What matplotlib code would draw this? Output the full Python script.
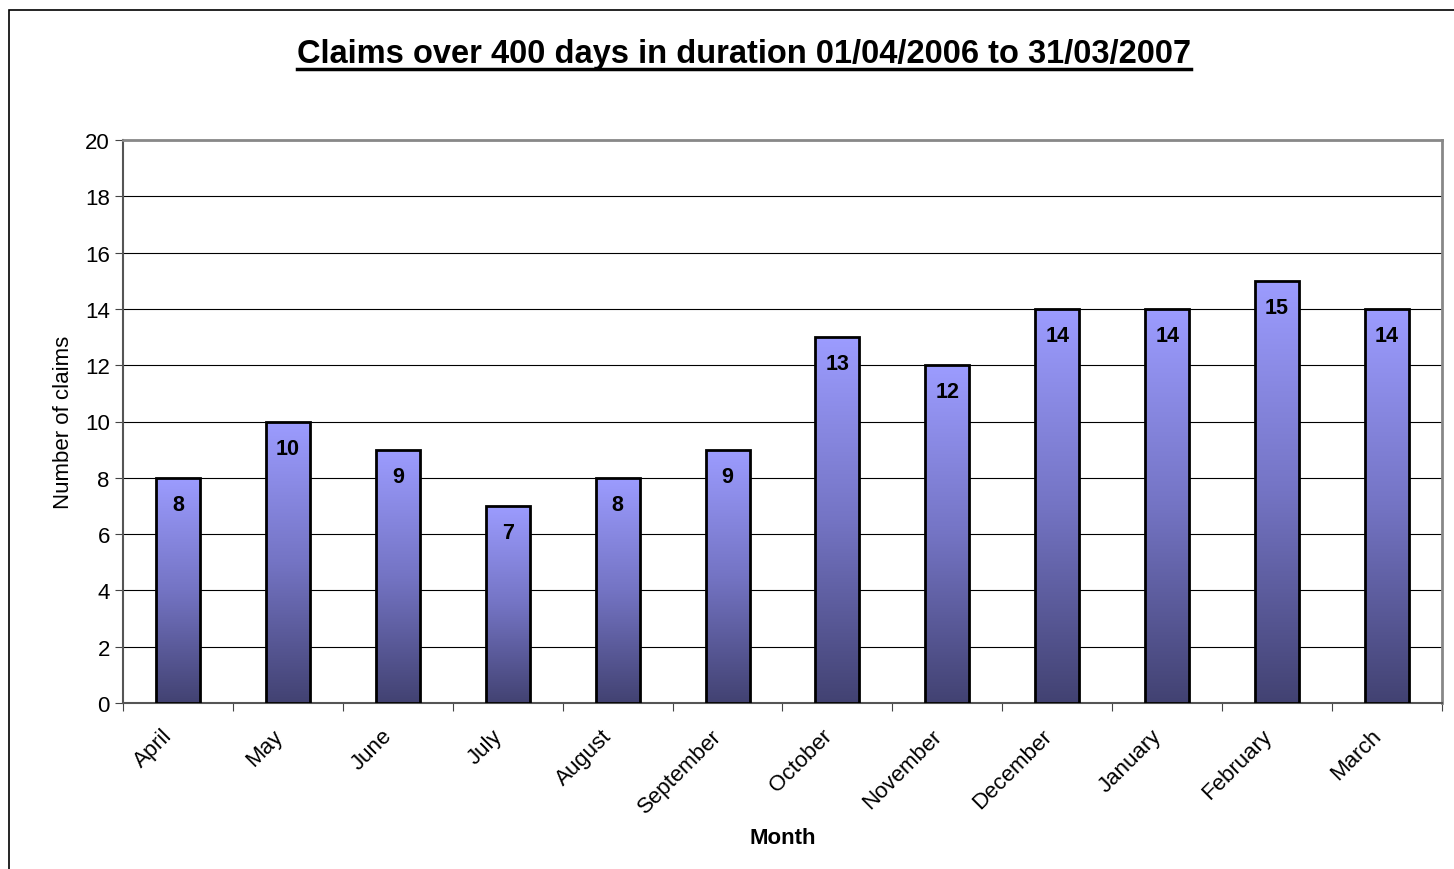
import numpy as np
import matplotlib
matplotlib.use("Agg")
import matplotlib.pyplot as plt
import matplotlib.transforms as mtransforms
from matplotlib.colors import LinearSegmentedColormap
from matplotlib.patches import Rectangle

plt.rcParams['font.family'] = ['Liberation Sans', 'DejaVu Sans']

months = ["April", "May", "June", "July", "August", "September",
          "October", "November", "December", "January", "February", "March"]
claims = [8, 10, 9, 7, 8, 9, 13, 12, 14, 14, 15, 14]

W, H = 1454, 870
fig = plt.figure(figsize=(W / 100, H / 100), dpi=100)
ax = fig.add_axes([123 / W, 1 - 704 / H, (1442 - 123) / W, (704 - 141) / H])

# outer chart frame (right and bottom edges fall outside the image)
fig.patches.append(Rectangle((9 / W, -0.05), 1.1, 1 - 11 / H + 0.05,
                             transform=fig.transFigure, fill=False,
                             edgecolor="black", lw=1.2))

cmap = LinearSegmentedColormap.from_list("bar", ["#424272", "#7474c4", "#9c9cff"])
grad = np.linspace(0, 1, 256).reshape(-1, 1)

x = np.arange(len(months))
bars = ax.bar(x, claims, width=0.4, facecolor="none", edgecolor="black",
              lw=2, zorder=3)
for b, v in zip(bars, claims):
    x0 = b.get_x()
    im = ax.imshow(grad, cmap=cmap, origin="lower", aspect="auto",
                   extent=[x0, x0 + b.get_width(), 0, v], zorder=2)
    im.set_clip_path(b)
    ax.text(b.get_x() + b.get_width() / 2, v - 0.95, str(v), ha="center",
            va="center", fontsize=15.5, fontweight="bold", zorder=4)

ax.set_xlim(-0.5, len(months) - 0.5)
ax.set_ylim(0, 20)
ax.set_yticks(range(0, 21, 2))
ax.set_xticks(np.arange(-0.5, len(months), 1.0))
ax.set_xticklabels([])

# rotated month labels, placed by hand so the offset sticks
lab_tr = ax.get_xaxis_transform() + mtransforms.ScaledTranslation(
    -16 / 100, -22 / 100, fig.dpi_scale_trans)
for xi, m in zip(x, months):
    ax.text(xi, 0, m, transform=lab_tr, rotation=45, ha="right", va="top",
            rotation_mode="anchor", fontsize=16, clip_on=False)

ax.tick_params(axis="x", which="major", length=6, color="#444444")
ax.tick_params(axis="y", length=6, labelsize=16, color="#444444")
ax.yaxis.grid(True, color="black", lw=0.8)
ax.set_axisbelow(True)
for s in ["top", "right"]:
    ax.spines[s].set_color("#888888")
    ax.spines[s].set_linewidth(2)
for s in ["left", "bottom"]:
    ax.spines[s].set_color("#555555")
    ax.spines[s].set_linewidth(1.5)

ax.set_ylabel("Number of claims", fontsize=16, labelpad=8)
fig.text(783 / W, 1 - 839 / H, "Month", ha="center", va="center",
         fontsize=16, fontweight="bold")

title = fig.text(744 / W, 1 - 55 / H,
                 "Claims over 400 days in duration 01/04/2006 to 31/03/2007",
                 ha="center", va="center", fontsize=23.5, fontweight="bold")
fig.canvas.draw()
bb = title.get_window_extent().transformed(fig.transFigure.inverted())
fig.add_artist(plt.Line2D([bb.x0, bb.x1], [1 - 70 / H, 1 - 70 / H],
                          color="black", lw=2.5, transform=fig.transFigure))

fig.savefig("out.png", dpi=100)
